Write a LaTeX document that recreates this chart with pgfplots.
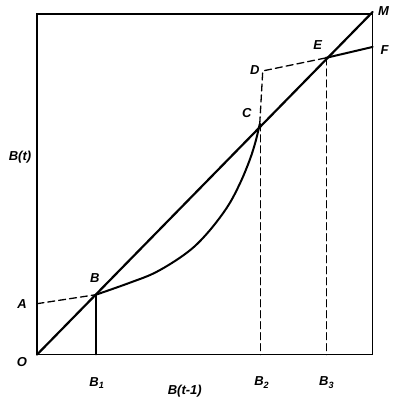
\documentclass[border=0pt]{standalone}
\usepackage{fontspec}
\setmainfont{Liberation Sans}
\usepackage{pgfplots}
\pgfplotsset{compat=1.18}
\begin{document}
\begin{tikzpicture}
\begin{axis}[scale only axis, width=336pt, height=341pt,
  xmin=0, xmax=336, ymin=0, ymax=341,
  axis line style={line width=1.6pt},
  xtick=\empty, ytick=\empty, clip=false,
  every axis plot/.append style={line cap=round, line join=round}]
\addplot[line width=2.2pt] coordinates {(0,0) (336,343)};
\addplot[line width=2pt, smooth, tension=0.6] coordinates {(59,60) (93,72) (120,83) (150,102) (170,121) (190,147) (203,171) (213,195) (219,214) (223,231)};
\addplot[line width=2pt] coordinates {(289,297) (336,308)};
\addplot[line width=1.3pt, dash pattern=on 7pt off 4pt] coordinates {(0,51) (59,60)};
\addplot[line width=1.3pt] coordinates {(59,60) (59,0)};
\addplot[line width=1.3pt, dash pattern=on 7pt off 4pt] coordinates {(223,231) (226,284) (289,297)};
\addplot[line width=1.3pt, dash pattern=on 7pt off 4pt] coordinates {(224,231) (224,0)};
\addplot[line width=1.3pt, dash pattern=on 7pt off 4pt] coordinates {(290,297) (290,0)};
\begin{scope}[every node/.style={font=\fontsize{13}{15}\selectfont\bfseries\itshape}]
\node at (axis cs:-15,-7) {O};
\node at (axis cs:-15,51) {A};
\node at (axis cs:58,77) {B};
\node at (axis cs:210,242) {C};
\node at (axis cs:218,285) {D};
\node at (axis cs:281,310) {E};
\node at (axis cs:348,305) {F};
\node at (axis cs:347,344) {M};
\node at (axis cs:-17,198) {B(t)};
\node at (axis cs:60,-28) {B\textsubscript{1}};
\node at (axis cs:225,-28) {B\textsubscript{2}};
\node at (axis cs:290,-28) {B\textsubscript{3}};
\node at (axis cs:148,-37) {B(t-1)};
\end{scope}
\path (axis cs:-37,-46) rectangle (axis cs:358,355);
\end{axis}
\end{tikzpicture}
\end{document}
